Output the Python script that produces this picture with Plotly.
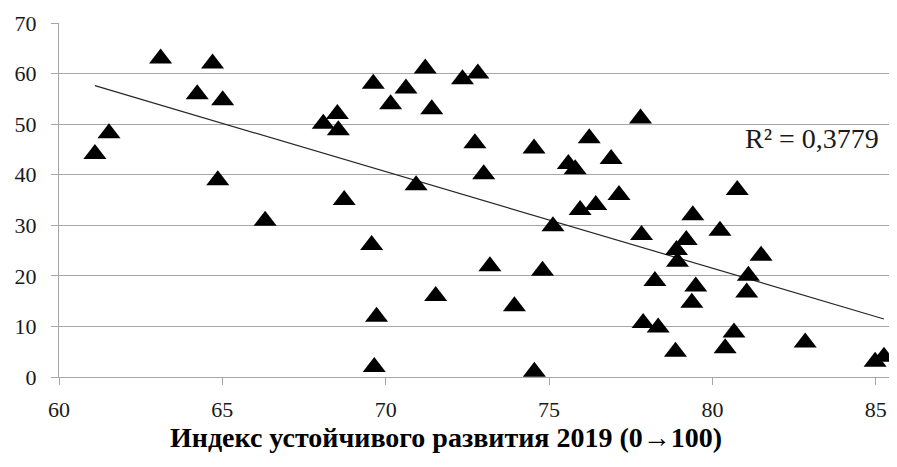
import numpy as np
import plotly.graph_objects as go

# Индекс устойчивого развития 2019 (x) vs показатель (y)
sdg_index = [
    61.1, 61.53, 63.11, 64.23, 64.7, 65.01, 64.86, 66.31,
    68.09, 68.52, 68.55, 68.73, 69.62, 69.57, 69.72, 69.65,
    70.15, 70.62, 70.93, 71.21, 71.41, 71.53, 72.35, 72.82,
    72.73, 73.0, 73.19, 73.94, 74.54, 74.55, 74.8, 75.12,
    75.59, 75.8, 75.95, 76.23, 76.43, 76.9, 77.14, 77.8,
    77.83, 77.88, 78.24, 78.34, 78.87, 78.9, 78.93, 79.2,
    79.4, 79.37, 79.49, 80.23, 80.39, 80.66, 80.76, 81.1,
    81.05, 81.49, 82.84, 84.98, 85.25,
]
score = [
    44.1, 48.2, 63.0, 55.9, 62.0, 54.7, 38.9, 30.9,
    50.1, 52.0, 48.8, 35.0, 58.0, 26.1, 11.9, 2.0,
    53.95, 57.05, 37.9, 61.0, 52.96, 16.0, 58.9, 60.0,
    46.2, 40.1, 21.9, 14.0, 45.2, 1.05, 21.0, 29.8,
    42.1, 41.1, 33.0, 47.2, 34.0, 43.1, 36.0, 51.1,
    28.1, 10.7, 19.0, 9.8, 5.0, 25.1, 22.8, 27.1,
    32.0, 14.7, 17.9, 28.9, 5.7, 8.8, 37.0, 20.0,
    16.7, 24.0, 6.8, 3.0, 4.0,
]
r2_label = "R² = 0,3779"
x_title = "Индекс устойчивого развития 2019 (0→100)"

x = np.array(sdg_index)
y = np.array(score)

# linear trend line over the data range
slope, intercept = np.polyfit(x, y, 1)
trend_x = np.array([x.min(), x.max()])
trend_y = slope * trend_x + intercept

fig = go.Figure()

fig.add_trace(go.Scatter(
    x=trend_x, y=trend_y, mode="lines",
    line=dict(color="#262626", width=1.2),
    hoverinfo="skip",
))

fig.add_trace(go.Scatter(
    x=x, y=y, mode="markers",
    marker=dict(symbol="triangle-up", size=20, color="black",
                line=dict(width=0)),
))

fig.add_annotation(
    x=83.05, y=47.2, xref="x", yref="y",
    text=r2_label, showarrow=False,
    font=dict(family="Liberation Serif", size=28, color="#1a1a1a"),
    xanchor="center", yanchor="middle",
)

fig.add_annotation(
    x=0.4618, y=-0.1695, xref="paper", yref="paper",
    text="<b>" + x_title + "</b>", showarrow=False,
    font=dict(family="Liberation Serif", size=28, color="black"),
    xanchor="center", yanchor="middle",
)

# the page body adds an 8px offset, so the margins are shifted to compensate
fig.update_layout(
    width=897, height=467,
    margin=dict(l=51, r=8, t=15, b=98),
    paper_bgcolor="white", plot_bgcolor="white",
    showlegend=False,
    font=dict(family="Liberation Serif", size=22, color="#1a1a1a"),
)

fig.update_xaxes(
    range=[60, 85.65], tickvals=[60, 65, 70, 75, 80, 85],
    showgrid=False, zeroline=False, automargin=False,
    showline=True, linecolor="#a6a6a6", linewidth=1,
    ticks="outside", ticklen=7, tickcolor="#a6a6a6",
    ticklabelstandoff=6,
)
fig.update_yaxes(
    range=[0, 70], dtick=10,
    showgrid=True, gridcolor="#a6a6a6", gridwidth=1,
    zeroline=False, automargin=False,
    showline=True, linecolor="#a6a6a6", linewidth=1,
    ticks="outside", ticklen=7, tickcolor="#a6a6a6",
    ticklabelstandoff=10,
)

fig.write_html("out.html")
